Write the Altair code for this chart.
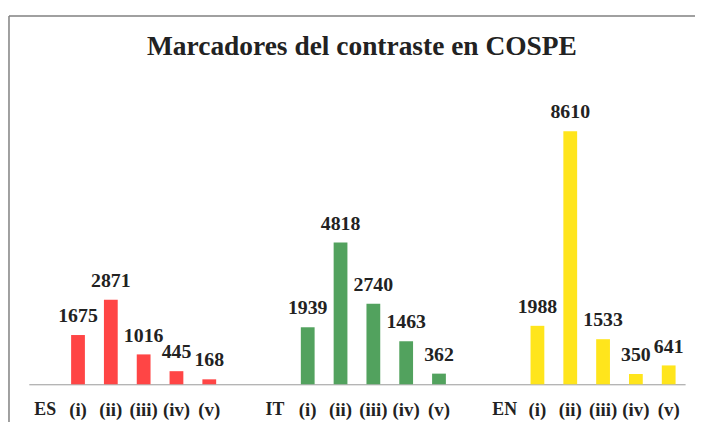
import altair as alt
import pandas as pd

title_text = "Marcadores del contraste en COSPE"
groups = ["ES", "IT", "EN"]
markers = ["(i)", "(ii)", "(iii)", "(iv)", "(v)"]
es_values = [1675, 2871, 1016, 445, 168]
it_values = [1939, 4818, 2740, 1463, 362]
en_values = [1988, 8610, 1533, 350, 641]
colors = ["#FF4545", "#52A25E", "#FFE51C"]

values_by_group = {"ES": es_values, "IT": it_values, "EN": en_values}

domain = []
rows = []
for gi, g in enumerate(groups):
    domain.append(g)
    for m, v in zip(markers, values_by_group[g]):
        key = f"{g} {m}"
        domain.append(key)
        rows.append({"key": key, "group": g, "marker": m, "value": v})
    if gi < len(groups) - 1:
        domain.append(" " * (gi + 1))

df = pd.DataFrame(rows)

W, H = 663, 297
FONT = "'Liberation Serif', 'Times New Roman', Times, 'DejaVu Serif', serif"

x_enc = alt.X(
    "key:N",
    scale=alt.Scale(domain=domain, paddingInner=0.58, paddingOuter=0.29),
    axis=alt.Axis(
        title=None,
        ticks=False,
        tickSize=0,
        domainColor="#9a9a9a",
        domainWidth=1,
        labelAngle=0,
        labelFont=FONT,
        labelFontWeight="bold",
        labelColor="#222222",
        labelFontSize={"condition": {"test": "indexof(datum.value, '(') < 0", "value": 18}, "value": 19},
        labelBaseline="middle",
        labelPadding=26,
        labelExpr="indexof(datum.value, '(') >= 0 ? slice(datum.value, indexof(datum.value, '(')) : datum.value",
    ),
)
y_enc = alt.Y("value:Q", scale=alt.Scale(domain=[0, 10000]), axis=None)

bars = alt.Chart(df).mark_bar().encode(
    x=x_enc,
    y=y_enc,
    color=alt.Color("group:N", scale=alt.Scale(domain=groups, range=colors), legend=None),
)

labels = alt.Chart(df).mark_text(
    font=FONT, fontSize=20, fontWeight="bold", color="#222222",
    baseline="alphabetic", dy=-13,
).encode(x=x_enc, y=y_enc, text="value:Q")

title = alt.Chart(pd.DataFrame({"t": [title_text]})).mark_text(
    font=FONT, fontSize=27.7, fontWeight="bold", color="#222222", baseline="alphabetic", align="center",
).encode(text="t:N", x=alt.value(W / 2 + 5), y=alt.value(-36))

frame_left = alt.Chart(pd.DataFrame({"a": [0]})).mark_rule(color="#808080", strokeWidth=1.5).encode(
    x=alt.value(-20), y=alt.value(-75), y2=alt.value(H + 45)
)
frame_top = alt.Chart(pd.DataFrame({"a": [0]})).mark_rule(color="#808080", strokeWidth=1.5).encode(
    x=alt.value(-20), x2=alt.value(W + 12), y=alt.value(-75)
)

chart = (
    alt.layer(frame_left, frame_top, bars, labels, title)
    .properties(
        width=W,
        height=H,
        autosize=alt.AutoSizeParams(type="none"),
        padding={"left": 21, "top": 81, "right": 10, "bottom": 36},
        background="white",
    )
    .configure_view(stroke=None)
)

chart.save("out.html", embed_options={"renderer": "svg", "actions": False})
